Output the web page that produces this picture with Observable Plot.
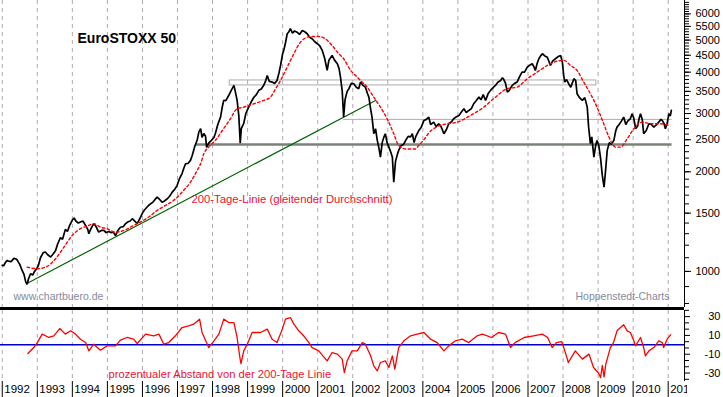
<!DOCTYPE html>
<html><head><meta charset="utf-8">
<script src="https://cdn.jsdelivr.net/npm/d3@7"></script>
<script src="https://cdn.jsdelivr.net/npm/@observablehq/plot@0.6"></script>
<style>
html,body{margin:0;padding:0;background:#fff;}
#chart{position:relative;width:723px;height:397px;overflow:hidden;background:#fff;}
#chart svg{position:absolute;left:0;display:block;}
</style></head><body><div id="chart"></div>
<script>
// EuroSTOXX 50 (decimal year, index points)
const price = [
[1992.00,1043],[1992.04,1040],[1992.08,1060],[1992.14,1080],[1992.17,1075],[1992.25,1070],[1992.33,1095],[1992.38,1092],[1992.42,1085],[1992.46,1067],[1992.50,1050],[1992.57,1005],[1992.62,980],[1992.67,930],[1992.71,915],[1992.75,950],[1992.81,985],[1992.87,975],[1992.92,1000],[1993.00,1025],
[1993.04,1050],[1993.09,1100],[1993.17,1140],[1993.23,1145],[1993.29,1125],[1993.38,1105],[1993.44,1125],[1993.52,1155],[1993.58,1210],[1993.66,1265],[1993.72,1250],[1993.80,1340],[1993.86,1320],[1993.92,1375],[1994.00,1430],
[1994.05,1450],[1994.10,1420],[1994.17,1400],[1994.23,1410],[1994.30,1420],[1994.38,1375],[1994.44,1340],[1994.47,1300],[1994.52,1340],[1994.61,1395],[1994.67,1370],[1994.75,1315],[1994.83,1330],[1994.90,1330],[1994.96,1310],
[1995.04,1320],[1995.10,1310],[1995.17,1315],[1995.23,1283],[1995.30,1330],[1995.37,1360],[1995.45,1365],[1995.52,1395],[1995.58,1410],[1995.65,1420],[1995.71,1443],[1995.78,1420],[1995.85,1395],[1995.92,1440],[1996.00,1500],
[1996.05,1530],[1996.12,1560],[1996.18,1585],[1996.23,1600],[1996.30,1620],[1996.36,1650],[1996.42,1677],[1996.48,1655],[1996.56,1618],[1996.62,1630],[1996.71,1658],[1996.78,1690],[1996.85,1736],[1996.92,1770],[1996.99,1820],
[1997.05,1900],[1997.13,1975],[1997.18,2050],[1997.23,2115],[1997.30,2120],[1997.37,2165],[1997.42,2240],[1997.50,2400],[1997.56,2490],[1997.61,2640],[1997.66,2700],[1997.70,2540],[1997.75,2610],[1997.80,2560],[1997.83,2370],[1997.90,2450],[1997.97,2490],
[1998.04,2540],[1998.08,2610],[1998.15,2780],[1998.23,2930],[1998.28,3150],[1998.32,3290],[1998.38,3280],[1998.46,3400],[1998.53,3520],[1998.61,3650],[1998.66,3450],[1998.70,3290],[1998.75,2950],[1998.79,2440],[1998.82,2700],[1998.89,2800],[1998.95,3000],[1999.03,3136],
[1999.10,3250],[1999.18,3360],[1999.25,3420],[1999.32,3525],[1999.39,3560],[1999.46,3650],[1999.52,3780],[1999.56,3910],[1999.62,3750],[1999.70,3733],[1999.77,3700],[1999.84,3776],[1999.90,4000],[1999.94,4190],[2000.00,4550],
[2000.03,4650],[2000.08,4900],[2000.13,5226],[2000.18,5300],[2000.22,5412],[2000.28,5250],[2000.34,5330],[2000.41,5284],[2000.48,5200],[2000.56,5349],[2000.63,5300],[2000.70,5226],[2000.77,5100],[2000.84,5047],[2000.91,4950],[2000.99,4875],
[2001.06,4800],[2001.13,4653],[2001.20,4400],[2001.27,4050],[2001.32,4350],[2001.41,4494],[2001.48,4350],[2001.56,4242],[2001.61,4100],[2001.65,3864],[2001.70,3500],[2001.74,2930],[2001.78,3300],[2001.84,3500],[2001.89,3565],[2001.96,3700],
[2002.03,3691],[2002.10,3600],[2002.17,3565],[2002.22,3733],[2002.29,3650],[2002.36,3605],[2002.42,3450],[2002.46,3362],[2002.51,3100],[2002.55,2926],[2002.60,2606],[2002.65,2700],[2002.70,2488],[2002.75,2350],[2002.79,2215],[2002.84,2450],[2002.89,2550],[2002.93,2606],[2002.98,2450],
[2003.03,2375],[2003.08,2300],[2003.13,2215],[2003.17,1861],[2003.22,2150],[2003.27,2250],[2003.31,2321],[2003.38,2400],[2003.45,2420],[2003.51,2488],[2003.58,2560],[2003.65,2550],[2003.70,2606],[2003.75,2450],[2003.80,2560],[2003.88,2660],[2003.95,2720],
[2004.03,2859],[2004.10,2880],[2004.17,2926],[2004.22,2780],[2004.31,2825],[2004.38,2740],[2004.45,2790],[2004.50,2761],[2004.55,2690],[2004.60,2606],[2004.67,2680],[2004.74,2794],[2004.81,2830],[2004.88,2893],[2004.95,2930],
[2005.03,2961],[2005.10,3030],[2005.17,3101],[2005.24,3020],[2005.31,3065],[2005.38,3100],[2005.45,3211],[2005.52,3280],[2005.60,3362],[2005.66,3300],[2005.72,3420],[2005.79,3286],[2005.86,3440],[2005.93,3524],[2005.99,3580],
[2006.07,3648],[2006.14,3730],[2006.22,3776],[2006.27,3850],[2006.31,3800],[2006.36,3700],[2006.41,3481],[2006.46,3520],[2006.55,3648],[2006.62,3700],[2006.69,3733],[2006.76,3880],[2006.83,4001],[2006.90,4000],[2006.98,4143],
[2007.05,4200],[2007.12,4242],[2007.17,4150],[2007.21,4049],[2007.26,4250],[2007.31,4392],[2007.36,4480],[2007.41,4547],[2007.48,4480],[2007.55,4441],[2007.60,4300],[2007.64,4192],[2007.70,4320],[2007.78,4392],[2007.85,4450],[2007.93,4494],[2007.98,4290],
[2008.02,3900],[2008.05,3733],[2008.10,3800],[2008.16,3691],[2008.22,3600],[2008.26,3700],[2008.31,3821],[2008.36,3780],[2008.40,3443],[2008.47,3350],[2008.55,3286],[2008.62,3350],[2008.69,3136],[2008.73,2729],[2008.78,2432],[2008.82,2550],[2008.88,2215],[2008.93,2400],[2008.97,2488],
[2009.02,2400],[2009.07,2200],[2009.12,1950],[2009.17,1798],[2009.21,2000],[2009.26,2321],[2009.32,2450],[2009.38,2420],[2009.45,2488],[2009.50,2650],[2009.54,2729],[2009.60,2780],[2009.67,2850],[2009.73,2926],[2009.79,2780],[2009.85,2850],[2009.92,2893],[2009.97,2996],
[2010.02,2900],[2010.07,2699],[2010.13,2750],[2010.17,2900],[2010.21,2996],[2010.26,2880],[2010.30,2606],[2010.37,2660],[2010.45,2794],[2010.52,2780],[2010.59,2729],[2010.66,2770],[2010.73,2825],[2010.79,2880],[2010.83,2859],[2010.88,2800],[2010.92,2699],[2010.97,2800],[2011.02,2996],[2011.06,2950],[2011.09,3065]
];

// 200-day moving average
const ma200 = [
[1992.71,1030],[1993.00,1019],[1993.28,1035],[1993.52,1092],[1993.76,1184],[1994.00,1285],[1994.23,1346],[1994.47,1377],[1994.61,1394],[1994.80,1361],[1994.99,1346],[1995.23,1314],[1995.47,1330],[1995.75,1377],[1995.94,1409],[1996.18,1460],[1996.42,1529],[1996.66,1583],[1996.89,1639],[1997.13,1736],[1997.37,1861],[1997.56,2018],[1997.66,2115],[1997.75,2268],[1997.89,2375],[1998.08,2488],[1998.28,2666],[1998.51,2893],[1998.70,3101],[1998.89,3136],[1999.18,3211],[1999.46,3286],[1999.65,3362],[1999.80,3565],[1999.94,3776],[2000.13,4143],[2000.32,4547],[2000.51,4930],[2000.79,5125],[2001.03,5125],[2001.22,5047],[2001.41,4817],[2001.60,4547],[2001.74,4392],[2001.94,4049],[2002.13,3864],[2002.22,3776],[2002.41,3605],[2002.60,3362],[2002.79,3136],[2002.98,2893],[2003.17,2606],[2003.31,2402],[2003.51,2344],[2003.79,2344],[2003.88,2400],[2004.03,2500],[2004.17,2620],[2004.36,2720],[2004.69,2794],[2004.98,2825],[2005.36,2961],[2005.74,3136],[2006.02,3325],[2006.41,3565],[2006.69,3605],[2006.98,3821],[2007.26,4001],[2007.55,4192],[2007.74,4290],[2008.02,4344],[2008.21,4192],[2008.40,4049],[2008.59,3733],[2008.78,3443],[2008.97,3136],[2009.16,2794],[2009.31,2547],[2009.50,2375],[2009.64,2375],[2009.83,2516],[2010.02,2699],[2010.26,2825],[2010.50,2794],[2010.78,2794],[2011.02,2761]
];

// percentage distance from the 200-day line
const deviation = [
[1992.73,-9.3],[1992.90,-2.9],[1993.00,2.4],[1993.14,11.4],[1993.33,7.8],[1993.47,9.6],[1993.64,17.3],[1993.80,11.4],[1993.95,14.9],[1994.09,11.4],[1994.23,6.0],[1994.38,2.4],[1994.47,-6.4],[1994.61,0.7],[1994.80,-5.7],[1994.99,-1.1],[1995.23,-1.1],[1995.37,5.0],[1995.56,7.8],[1995.75,6.0],[1995.85,1.4],[1996.09,11.4],[1996.32,9.6],[1996.47,11.4],[1996.61,0.7],[1996.75,2.4],[1996.94,9.6],[1997.13,18.4],[1997.32,20.2],[1997.46,22.0],[1997.63,27.3],[1997.70,13.1],[1997.85,0.7],[1997.89,-2.9],[1998.04,4.3],[1998.18,11.4],[1998.32,27.3],[1998.46,23.7],[1998.61,23.7],[1998.70,7.8],[1998.78,-13.5],[1998.81,-20.0],[1998.89,-6.4],[1998.99,0.7],[1999.13,13.1],[1999.37,13.1],[1999.56,16.7],[1999.70,6.0],[1999.84,2.4],[1999.99,16.7],[2000.08,27.3],[2000.22,29.0],[2000.32,22.0],[2000.46,14.9],[2000.60,9.6],[2000.75,2.4],[2000.84,-2.9],[2001.03,-6.4],[2001.27,-17.0],[2001.41,-8.2],[2001.56,-9.9],[2001.70,-15.2],[2001.76,-29.5],[2001.84,-17.0],[2001.98,-6.4],[2002.13,-6.4],[2002.27,2.4],[2002.36,0.7],[2002.51,-11.7],[2002.60,-22.3],[2002.70,-27.7],[2002.79,-18.8],[2002.93,-17.0],[2003.03,-24.1],[2003.13,-11.7],[2003.20,-25.9],[2003.31,-2.9],[2003.46,4.3],[2003.65,9.6],[2003.84,11.4],[2004.03,13.1],[2004.22,6.0],[2004.41,2.4],[2004.60,-6.4],[2004.74,-1.1],[2004.93,4.3],[2005.12,6.0],[2005.31,2.4],[2005.55,9.6],[2005.70,11.4],[2005.96,7.8],[2006.16,13.1],[2006.36,11.4],[2006.50,-2.9],[2006.63,2.4],[2006.89,7.8],[2007.16,9.6],[2007.41,11.4],[2007.56,7.8],[2007.69,-2.9],[2007.81,2.4],[2007.96,3.5],[2008.08,-9.9],[2008.15,-18.8],[2008.35,-6.4],[2008.55,-15.2],[2008.74,-9.9],[2008.87,-24.1],[2009.01,-30.0],[2009.07,-34.8],[2009.12,-22.0],[2009.17,-34.0],[2009.22,-20.5],[2009.35,-2.9],[2009.44,2.4],[2009.54,14.9],[2009.64,18.4],[2009.73,21.3],[2009.83,14.9],[2009.92,13.1],[2010.02,4.3],[2010.07,-1.1],[2010.21,7.8],[2010.30,-2.9],[2010.35,-11.7],[2010.45,-6.4],[2010.59,-2.9],[2010.73,4.3],[2010.83,2.4],[2010.87,-2.9],[2010.97,6.0],[2011.07,10.6]
];

// reference lines drawn in the chart
const trendLine = [[1992.69, 918], [2002.65, 3286]];
const supportLine = [{x1: 1997.54, x2: 2011.11, y: 2420}];
const resistanceBand = [{x1: 1998.49, x2: 2008.95, y1: 3648, y2: 3776}];
const middleLine = [{x1: 2001.74, x2: 2011.11, y: 2880}];

const years = [1992,1993,1994,1995,1996,1997,1998,1999,2000,2001,2002,2003,2004,2005,2006,2007,2008,2009,2010,2011];
const priceTicks = [1000,1500,2000,2500,3000,3500,4000,4500,5000,5500,6000];
const priceMinorTicks = d3.range(800, 6600, 100);
const devTicks = [30, 10, -10, -30];
const devMinorTicks = [36.67, 23.33, 16.67, 3.33, -3.33, -16.67, -23.33, -36.67];

const titleText = "EuroSTOXX 50";
const maLabel = "200-Tage-Linie (gleitender Durchschnitt)";
const devLabel = "prozentualer Abstand von der 200-Tage Linie";
const leftCredit = "www.chartbuero.de";
const rightCredit = "Hoppenstedt-Charts";

const xDomain = [1991.95, 2011.465];
const FONT = "'Liberation Sans', Arial, Helvetica, sans-serif";
const gridColor = "#b3a7b6";
const style = {fontFamily: FONT, fontSize: "11px", background: "transparent", overflow: "visible", color: "#000"};

const topPlot = Plot.plot({
  width: 723, height: 310,
  marginLeft: 0, marginRight: 39, marginTop: 0, marginBottom: 3,
  style,
  x: {domain: xDomain, axis: null},
  y: {type: "log", domain: [778, 6586], axis: null},
  marks: [
    Plot.ruleX(years, {stroke: gridColor, strokeDasharray: "4,4"}),
    Plot.rect(resistanceBand, {x1: "x1", x2: "x2", y1: "y1", y2: "y2", fill: "none", stroke: "#ababab"}),
    Plot.ruleY(middleLine, {y: "y", x1: "x1", x2: "x2", stroke: "#ababab"}),
    Plot.ruleY(supportLine, {y: "y", x1: "x1", x2: "x2", stroke: "#7a837a", strokeWidth: 2.5}),
    Plot.line(trendLine, {x: d => d[0], y: d => d[1], stroke: "#006400", strokeWidth: 1.2}),
    Plot.line(price, {x: d => d[0], y: d => d[1], stroke: "#000", strokeWidth: 1.7, strokeLinejoin: "miter"}),
    Plot.line(ma200, {x: d => d[0], y: d => d[1], stroke: "#ff0000", strokeWidth: 1.4, strokeDasharray: "2.5,2.5", curve: "monotone-x"}),
    Plot.ruleY([778], {dy: 1, stroke: "#000", strokeWidth: 3}),
    Plot.ruleX([xDomain[1]], {stroke: "#000"}),
    Plot.axisY(priceMinorTicks, {anchor: "right", tickSize: 4, tickFormat: () => ""}),
    Plot.axisY(priceTicks, {anchor: "right", tickSize: 6, tickPadding: 5, fontSize: 11, tickFormat: d => String(d), fill: "#000"}),
    Plot.text([titleText], {frameAnchor: "top-left", dx: 77, dy: 33, textAnchor: "start", fontWeight: "bold", fontSize: 14, fill: "#000"}),
    Plot.text([maLabel], {frameAnchor: "top-left", dx: 191, dy: 194, textAnchor: "start", fontSize: 11.3, fill: "#ee1133"}),
    Plot.text([leftCredit], {frameAnchor: "top-left", dx: 13, dy: 292.5, textAnchor: "start", fontSize: 10.5, fill: "#868a9c"}),
    Plot.text([rightCredit], {frameAnchor: "top-left", dx: 575, dy: 292, textAnchor: "start", fontSize: 10.5, fill: "#868a9c"})
  ]
});

const bottomPlot = Plot.plot({
  width: 723, height: 71,
  marginLeft: 0, marginRight: 39, marginTop: 0, marginBottom: 0,
  style,
  x: {domain: xDomain, axis: null},
  y: {domain: [-39, 36.5], axis: null},
  marks: [
    Plot.ruleX(years, {stroke: gridColor, strokeDasharray: "4,4"}),
    Plot.ruleY([0], {stroke: "#0000cc", strokeWidth: 1.5}),
    Plot.line(deviation, {x: d => d[0], y: d => d[1], stroke: "#ff0000", strokeWidth: 1.3}),
    Plot.ruleX([xDomain[1]], {stroke: "#000"}),
    Plot.axisY(devMinorTicks, {anchor: "right", tickSize: 4, tickFormat: () => ""}),
    Plot.axisY(devTicks, {anchor: "right", tickSize: 5, tickPadding: 31, textAnchor: "end", fontSize: 11, tickFormat: d => String(d), fill: "#000"}),
    Plot.text([devLabel], {frameAnchor: "top-left", dx: 108, dy: 60, textAnchor: "start", fontSize: 11.2, fill: "#ee1133"})
  ]
});

const axisPlot = Plot.plot({
  width: 723, height: 16,
  marginLeft: 0, marginRight: 36, marginTop: 0, marginBottom: 0,
  style,
  x: {domain: xDomain, range: [0, 684], axis: null},
  marks: [
    Plot.ruleX(years, {stroke: "#000"}),
    Plot.text(years, {x: d => d, text: d => String(d), frameAnchor: "middle", textAnchor: "start", dx: 2, fontSize: 11.5, fill: "#000", clip: true})
  ]
});

const chart = document.getElementById("chart");
[[topPlot, 0], [bottomPlot, 310], [axisPlot, 381]].forEach(([svg, top]) => {
  svg.style.top = top + "px";
  chart.appendChild(svg);
});
</script>
</body></html>
